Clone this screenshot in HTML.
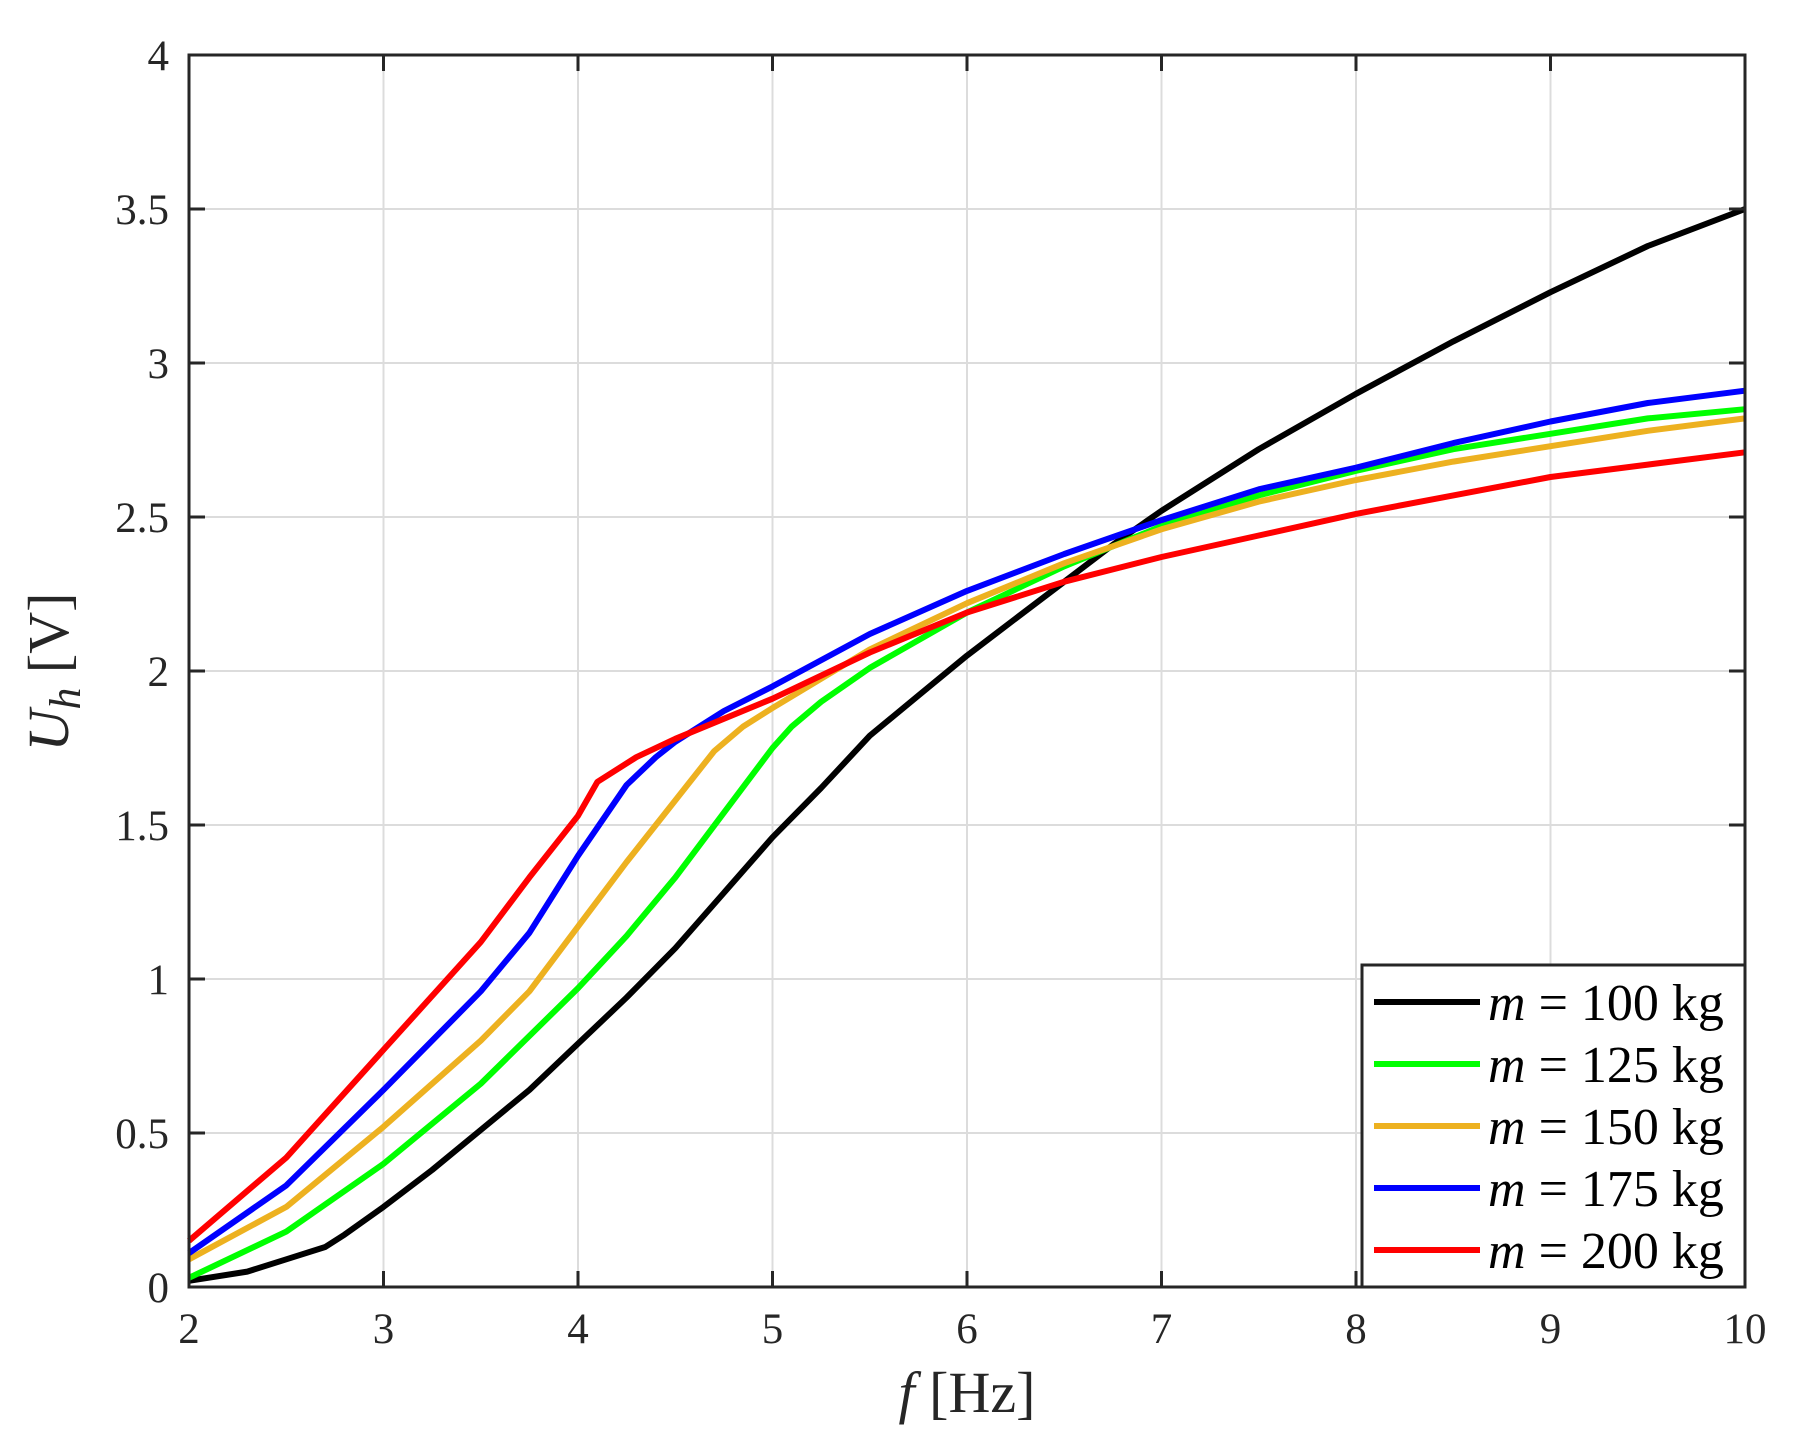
<!DOCTYPE html>
<html><head><meta charset="utf-8"><style>
html,body{margin:0;padding:0;background:#fff;}
svg{display:block;font-family:"Liberation Serif",serif;}
</style></head><body>
<svg id="chart" width="1793" height="1442" viewBox="0 0 1793 1442" xmlns="http://www.w3.org/2000/svg">
<rect width="1793" height="1442" fill="#fff"/>
<g id="grid"></g>
<g id="series"></g>
<g id="axes"></g>
<text transform="translate(68,672) rotate(-90)" text-anchor="middle" font-size="58" fill="#262626"><tspan font-style="italic">U</tspan><tspan font-style="italic" font-size="44" dy="12">h</tspan><tspan dy="-12"> [V]</tspan></text>
<text x="967" y="1412" text-anchor="middle" font-size="58" fill="#262626"><tspan font-style="italic">f</tspan> [Hz]</text>
<g id="legend"></g>
</svg>
<script>
const xTicks=[2,3,4,5,6,7,8,9,10];
const yTicks=[0,0.5,1,1.5,2,2.5,3,3.5,4];
const yTickLabels=["0","0.5","1","1.5","2","2.5","3","3.5","4"];
const seriesNames=["m = 100 kg","m = 125 kg","m = 150 kg","m = 175 kg","m = 200 kg"];
const seriesColors=["#000000","#00ff00","#edb120","#0000ff","#ff0000"];
const x100=[2,2.3,2.5,2.7,2.8,3,3.25,3.5,3.75,4,4.25,4.5,4.75,5,5.25,5.5,5.75,6,6.25,6.5,6.75,7,7.5,8,8.5,9,9.5,10];
const y100=[0.02,0.05,0.09,0.13,0.17,0.26,0.38,0.51,0.64,0.79,0.94,1.10,1.28,1.46,1.62,1.79,1.92,2.05,2.17,2.29,2.41,2.52,2.72,2.90,3.07,3.23,3.38,3.50];
const x125=[2,2.5,3,3.5,4,4.25,4.5,4.75,5,5.1,5.25,5.5,6,6.5,7,7.5,8,8.5,9,9.5,10];
const y125=[0.03,0.18,0.40,0.66,0.97,1.14,1.33,1.54,1.75,1.82,1.90,2.01,2.19,2.34,2.47,2.57,2.65,2.72,2.77,2.82,2.85];
const x150=[2,2.5,3,3.5,3.75,4,4.25,4.5,4.7,4.85,5,5.5,6,6.5,7,7.5,8,8.5,9,9.5,10];
const y150=[0.09,0.26,0.52,0.80,0.96,1.17,1.38,1.58,1.74,1.82,1.88,2.07,2.22,2.35,2.46,2.55,2.62,2.68,2.73,2.78,2.82];
const x175=[2,2.5,3,3.5,3.75,4,4.25,4.4,4.5,4.75,5,5.5,6,6.5,7,7.5,8,8.5,9,9.5,10];
const y175=[0.11,0.33,0.64,0.96,1.15,1.40,1.63,1.72,1.77,1.87,1.95,2.12,2.26,2.38,2.49,2.59,2.66,2.74,2.81,2.87,2.91];
const x200=[2,2.5,3,3.5,3.75,4,4.1,4.3,4.5,5,5.5,6,6.5,7,7.5,8,8.5,9,9.5,10];
const y200=[0.15,0.42,0.77,1.12,1.33,1.53,1.64,1.72,1.78,1.91,2.06,2.19,2.29,2.37,2.44,2.51,2.57,2.63,2.67,2.71];

const NS="http://www.w3.org/2000/svg";
const L=189,R=1745,T=55,B=1287;
const sx=v=>L+(v-2)/8*(R-L);
const sy=v=>B-v/4*(B-T);
function mk(tag,parent,attrs){const e=document.createElementNS(NS,tag);for(const k in attrs)e.setAttribute(k,attrs[k]);parent.appendChild(e);return e;}
const grid=document.getElementById('grid'),axes=document.getElementById('axes'),series=document.getElementById('series'),legend=document.getElementById('legend');
xTicks.forEach((t,i)=>{
  const g=mk('line',grid,{x1:sx(t),x2:sx(t),y1:T,y2:B,stroke:'#dcdcdc','stroke-width':2});
  
  
  const a=mk('line',axes,{x1:sx(t),x2:sx(t),y1:B,y2:B-16,stroke:'#262626','stroke-width':3});
  
  
  const b=mk('line',axes,{x1:sx(t),x2:sx(t),y1:T,y2:T+16,stroke:'#262626','stroke-width':3});
  
  
  const tx=mk('text',axes,{x:sx(t),y:B+56,'text-anchor':'middle','font-size':43,fill:'#262626'});
  tx.textContent=String(t);
  
  
});
yTicks.forEach((t,i)=>{
  const g=mk('line',grid,{x1:L,x2:R,y1:sy(t),y2:sy(t),stroke:'#dcdcdc','stroke-width':2});
  
  
  const a=mk('line',axes,{x1:L,x2:L+16,y1:sy(t),y2:sy(t),stroke:'#262626','stroke-width':3});
  
  
  const b=mk('line',axes,{x1:R,x2:R-16,y1:sy(t),y2:sy(t),stroke:'#262626','stroke-width':3});
  
  
  const tx=mk('text',axes,{x:L-20,y:sy(t)+15,'text-anchor':'end','font-size':43,fill:'#262626'});
  tx.textContent=yTickLabels[i];
  
  
});
const box=mk('rect',axes,{x:L,y:T,width:R-L,height:B-T,fill:'none',stroke:'#262626','stroke-width':3});


const xs=[x100,x125,x150,x175,x200],ys=[y100,y125,y150,y175,y200];
const snames=['series-100kg','series-125kg','series-150kg','series-175kg','series-200kg'];
xs.forEach((xa,k)=>{
  const d=xa.map((v,i)=>(i?'L':'M')+sx(v).toFixed(1)+','+sy(ys[k][i]).toFixed(1)).join(' ');
  const p=mk('path',series,{d:d,fill:'none',stroke:seriesColors[k],'stroke-width':6,'stroke-linejoin':'round'});
  
  
});
const lb=mk('rect',legend,{x:1362,y:965,width:R-1362,height:B-965,fill:'#fff',stroke:'#262626','stroke-width':3});


seriesNames.forEach((n,k)=>{
  const y=1002+k*62;
  const ln=mk('line',legend,{x1:1374,x2:1480,y1:y,y2:y,stroke:seriesColors[k],'stroke-width':6});
  
  
  const t=mk('text',legend,{x:1488,y:y+18,'font-size':52,fill:'#000'});
  
  
  const it=mk('tspan',t,{'font-style':'italic'});it.textContent='m';
  const rest=mk('tspan',t,{});rest.textContent=n.slice(1);
});
</script>
</body></html>
